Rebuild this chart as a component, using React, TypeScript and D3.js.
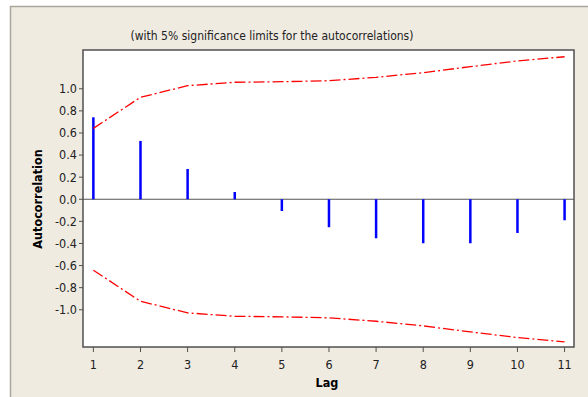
import * as React from 'react';
import * as d3 from 'd3';

const lags = [1, 2, 3, 4, 5, 6, 7, 8, 9, 10, 11];
const acf = [0.742, 0.528, 0.274, 0.066, -0.106, -0.253, -0.353, -0.398, -0.398, -0.305, -0.19];
const upperLimit = [0.642, 0.923, 1.028, 1.059, 1.064, 1.073, 1.104, 1.146, 1.2, 1.252, 1.29];
const lowerLimit = upperLimit.map((v) => -v);
const yTicks = [1.0, 0.8, 0.6, 0.4, 0.2, 0.0, -0.2, -0.4, -0.6, -0.8, -1.0];

const title = '(with 5% significance limits for the autocorrelations)';
const font = '"DejaVu Sans Condensed", "Liberation Sans", sans-serif';

const App = () => {
  const ref = React.useRef<SVGSVGElement>(null);

  React.useEffect(() => {
    const width = 588;
    const height = 397;
    const plot = { left: 83, top: 50, right: 574, bottom: 347 };

    const svg = d3.select(ref.current);
    svg.selectAll('*').remove();

    // outer panel
    svg.append('rect').attr('width', width).attr('height', height).attr('fill', '#ffffff');
    svg.append('rect')
      .attr('x', 10.5).attr('y', 6.5)
      .attr('width', width).attr('height', height)
      .attr('fill', '#efebe1')
      .attr('stroke', '#a9a69d')
      .attr('stroke-width', 1.5);

    const x = d3.scaleLinear().domain([0.78, 11.2]).range([plot.left, plot.right]);
    const y = d3.scaleLinear().domain([-1.337, 1.351]).range([plot.bottom, plot.top]);

    svg.append('rect')
      .attr('x', plot.left).attr('y', plot.top)
      .attr('width', plot.right - plot.left).attr('height', plot.bottom - plot.top)
      .attr('fill', '#ffffff');

    // zero line
    svg.append('line')
      .attr('x1', plot.left).attr('x2', plot.right)
      .attr('y1', y(0)).attr('y2', y(0))
      .attr('stroke', '#555555').attr('stroke-width', 1.2);

    // bars
    svg.append('g').selectAll('line').data(acf)
      .enter().append('line')
      .attr('x1', (d, i) => x(lags[i])).attr('x2', (d, i) => x(lags[i]))
      .attr('y1', y(0)).attr('y2', (d) => y(d))
      .attr('stroke', '#0000ff').attr('stroke-width', 2.5);

    // significance limits
    const line = d3.line<number>()
      .x((d, i) => x(lags[i]))
      .y((d) => y(d));
    [upperLimit, lowerLimit].forEach((lim) => {
      svg.append('path')
        .attr('d', line(lim))
        .attr('fill', 'none')
        .attr('stroke', '#ff0000')
        .attr('stroke-width', 1.3)
        .attr('stroke-dasharray', '11,3,2,3');
    });

    // plot border
    svg.append('rect')
      .attr('x', plot.left).attr('y', plot.top)
      .attr('width', plot.right - plot.left).attr('height', plot.bottom - plot.top)
      .attr('fill', 'none')
      .attr('stroke', '#505050').attr('stroke-width', 1.5);

    const fmt = (d: number) => d3.format('.1f')(d).replace('\u2212', '-');

    // y axis
    const yAxis = svg.append('g');
    yAxis.selectAll('line').data(yTicks)
      .enter().append('line')
      .attr('x1', plot.left - 4).attr('x2', plot.left)
      .attr('y1', (d) => y(d)).attr('y2', (d) => y(d))
      .attr('stroke', '#505050');
    yAxis.selectAll('text').data(yTicks)
      .enter().append('text')
      .attr('x', plot.left - 6).attr('y', (d) => y(d))
      .attr('dy', '0.35em')
      .attr('text-anchor', 'end')
      .attr('font-family', font).attr('font-size', 12.5)
      .attr('fill', '#222222')
      .text(fmt);

    // x axis
    const xAxis = svg.append('g');
    xAxis.selectAll('line').data(lags)
      .enter().append('line')
      .attr('x1', (d) => x(d)).attr('x2', (d) => x(d))
      .attr('y1', plot.bottom).attr('y2', plot.bottom + 5)
      .attr('stroke', '#505050');
    xAxis.selectAll('text').data(lags)
      .enter().append('text')
      .attr('x', (d) => x(d)).attr('y', 369)
      .attr('text-anchor', 'middle')
      .attr('font-family', font).attr('font-size', 12.5)
      .attr('fill', '#222222')
      .text((d) => d);

    svg.append('text')
      .attr('x', 327).attr('y', 387)
      .attr('text-anchor', 'middle')
      .attr('font-family', font).attr('font-size', 12.5).attr('font-weight', 'bold')
      .text('Lag');

    svg.append('text')
      .attr('transform', `translate(42,199) rotate(-90)`)
      .attr('text-anchor', 'middle')
      .attr('font-family', font).attr('font-size', 12.5).attr('font-weight', 'bold')
      .text('Autocorrelation');

    svg.append('text')
      .attr('x', 272).attr('y', 40)
      .attr('text-anchor', 'middle')
      .attr('font-family', font).attr('font-size', 12)
      .attr('fill', '#222222')
      .text(title);
  }, []);

  return (
    <svg ref={ref} width={588} height={397} style={{ position: 'absolute', left: 0, top: 0 }} />
  );
};

export default App;
